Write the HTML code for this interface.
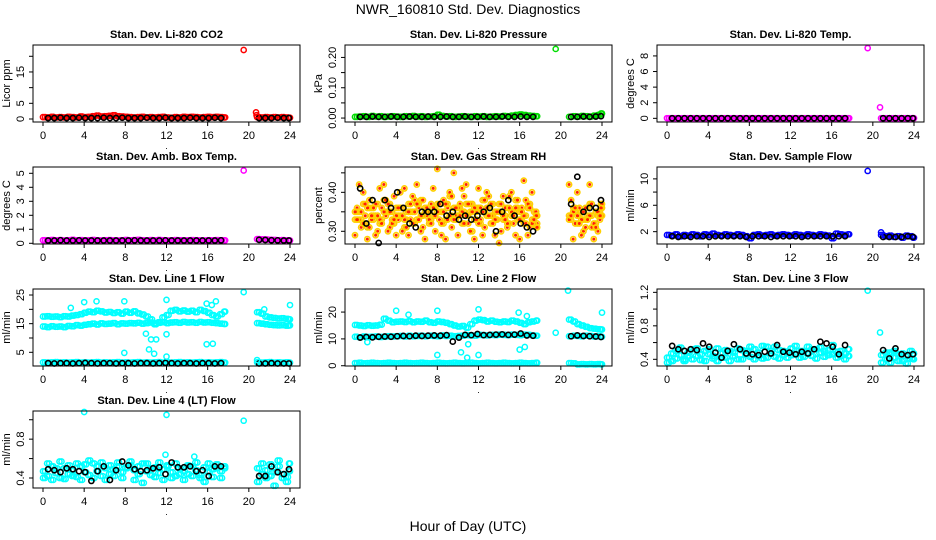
<!DOCTYPE html>
<html><head><meta charset="utf-8"><style>
html,body{margin:0;padding:0;background:#fff;}
svg{display:block;font-family:"Liberation Sans",Arial,sans-serif;}
</style></head><body>
<svg id="chart" width="936" height="540" viewBox="0 0 936 540" xmlns="http://www.w3.org/2000/svg">
<text x="468" y="14" font-size="14" text-anchor="middle">NWR_160810  Std. Dev. Diagnostics</text>
<text x="468" y="531" font-size="14" text-anchor="middle">Hour of Day (UTC)</text>
</svg>
<script>
const hoursColor=[0,0.4,0.8,1.2,1.6,2,2.4,2.8,3.2,3.6,4,4.4,4.8,5.2,5.6,6,6.4,6.8,7.2,7.6,8,8.4,8.8,9.2,9.6,10,10.4,10.8,11.2,11.6,12,12.4,12.8,13.2,13.6,14,14.4,14.8,15.2,15.6,16,16.4,16.8,17.2,17.6,20.8,21.2,21.6,22,22.4,22.8,23.2,23.6,24];
const hoursAlt=[0.2,0.6,1,1.4,1.8,2.2,2.6,3,3.4,3.8,4.2,4.6,5,5.4,5.8,6.2,6.6,7,7.4,7.8,8.2,8.6,9,9.4,9.8,10.2,10.6,11,11.4,11.8,12.2,12.6,13,13.4,13.8,14.2,14.6,15,15.4,15.8,16.2,16.6,17,17.4,17.7,21,21.4,21.8,22.2,22.6,23,23.4,23.8,23.9];
const hoursBlack=[0.5,1.1,1.7,2.3,2.9,3.5,4.1,4.7,5.3,5.9,6.5,7.1,7.7,8.3,8.9,9.5,10.1,10.7,11.3,11.9,12.5,13.1,13.7,14.3,14.9,15.5,16.1,16.7,17.3,21.0,21.6,22.2,22.8,23.4,23.9];

const co2Color=[0.6,0.5,0.7,0.5,0.6,0.5,0.7,0.6,0.5,0.8,0.6,0.7,0.9,1.1,0.8,0.9,1.0,1.2,0.9,0.8,0.7,0.6,0.5,0.6,0.7,0.5,0.6,0.5,0.6,0.7,0.5,0.4,0.6,0.5,0.7,0.6,0.7,0.6,0.5,0.6,0.7,0.6,0.7,0.6,0.5,0.6,0.5,0.6,0.5,0.6,0.5,0.6,0.5,0.4];
const co2Black=[0.3,0.3,0.4,0.3,0.3,0.4,0.3,0.3,0.3,0.4,0.3,0.3,0.4,0.3,0.3,0.3,0.4,0.3,0.3,0.4,0.3,0.3,0.3,0.4,0.3,0.3,0.3,0.4,0.3,0.3,0.3,0.3,0.4,0.3,0.3];
const co2OutHours=[19.5,20.7,20.75];
const co2OutVals=[22,2.1,1.2];

const presColor=[0.004,0.005,0.006,0.004,0.007,0.005,0.006,0.004,0.005,0.006,0.005,0.004,0.006,0.005,0.007,0.005,0.006,0.004,0.005,0.006,0.011,0.007,0.005,0.006,0.004,0.005,0.006,0.005,0.004,0.006,0.005,0.006,0.004,0.005,0.006,0.005,0.007,0.006,0.008,0.01,0.012,0.01,0.008,0.007,0.006,0.004,0.006,0.005,0.007,0.006,0.005,0.008,0.01,0.015];
const presBlack=[0.004,0.004,0.005,0.004,0.004,0.005,0.004,0.004,0.005,0.004,0.004,0.005,0.004,0.004,0.005,0.004,0.004,0.005,0.004,0.004,0.005,0.004,0.004,0.005,0.004,0.004,0.005,0.004,0.004,0.004,0.004,0.005,0.004,0.005,0.006];
const presOutHours=[19.5];
const presOutVals=[0.228];

const tempColor=[0.02,0.01,0.02,0.01,0.02,0.01,0.02,0.01,0.02,0.01,0.02,0.01,0.02,0.01,0.02,0.01,0.02,0.01,0.02,0.01,0.02,0.01,0.02,0.01,0.02,0.01,0.02,0.01,0.02,0.01,0.02,0.01,0.02,0.01,0.02,0.01,0.02,0.01,0.02,0.01,0.02,0.01,0.02,0.01,0.02,0.01,0.02,0.01,0.02,0.01,0.02,0.01,0.02,0.01];
const tempBlack=[0.01,0.01,0.01,0.01,0.01,0.01,0.01,0.01,0.01,0.01,0.01,0.01,0.01,0.01,0.01,0.01,0.01,0.01,0.01,0.01,0.01,0.01,0.01,0.01,0.01,0.01,0.01,0.01,0.01,0.01,0.01,0.01,0.01,0.01,0.01];
const tempOutHours=[19.5,20.7];
const tempOutVals=[9.0,1.4];

const ambColor=[0.22,0.2,0.24,0.21,0.23,0.2,0.22,0.25,0.21,0.23,0.2,0.22,0.24,0.21,0.2,0.22,0.23,0.21,0.2,0.22,0.24,0.21,0.23,0.25,0.22,0.2,0.23,0.21,0.24,0.22,0.2,0.21,0.23,0.22,0.2,0.21,0.23,0.22,0.21,0.2,0.22,0.21,0.23,0.22,0.21,0.3,0.28,0.27,0.25,0.24,0.22,0.23,0.21,0.2];
const ambBlack=[0.2,0.2,0.22,0.2,0.2,0.21,0.2,0.2,0.2,0.2,0.2,0.2,0.2,0.2,0.21,0.2,0.2,0.2,0.2,0.21,0.2,0.2,0.2,0.2,0.2,0.2,0.2,0.2,0.21,0.25,0.24,0.22,0.21,0.2,0.2];
const ambOutHours=[19.5];
const ambOutVals=[5.2];

const rhColorA=[0.33,0.35,0.37,0.31,0.36,0.34,0.32,0.38,0.35,0.33,0.36,0.34,0.31,0.37,0.35,0.33,0.38,0.36,0.32,0.34,0.37,0.35,0.33,0.39,0.36,0.34,0.32,0.37,0.35,0.33,0.36,0.38,0.34,0.32,0.35,0.37,0.33,0.36,0.34,0.38,0.35,0.32,0.36,0.33,0.31,0.34,0.36,0.32,0.35,0.33,0.37,0.31,0.34,0.36];
const rhColorB=[0.36,0.31,0.34,0.38,0.33,0.30,0.36,0.34,0.31,0.39,0.33,0.30,0.35,0.33,0.38,0.36,0.31,0.34,0.37,0.30,0.33,0.38,0.36,0.31,0.34,0.37,0.39,0.32,0.30,0.35,0.33,0.31,0.39,0.37,0.33,0.30,0.36,0.39,0.32,0.33,0.36,0.38,0.31,0.35,0.32,0.38,0.32,0.36,0.30,0.34,0.31,0.35,0.33,0.37];
const rhColorC=[0.29,0.42,0.40,0.28,0.33,0.29,0.41,0.42,0.30,0.35,0.29,0.40,0.41,0.29,0.39,0.42,0.30,0.28,0.35,0.41,0.46,0.29,0.28,0.40,0.45,0.29,0.41,0.42,0.30,0.28,0.41,0.29,0.40,0.37,0.29,0.27,0.39,0.31,0.40,0.29,0.28,0.43,0.29,0.40,0.35,0.42,0.28,0.40,0.29,0.31,0.42,0.28,0.30,0.37];
const rhColorD=[0.35,0.33,0.32,0.36,0.34,0.37,0.33,0.35,0.37,0.32,0.34,0.36,0.33,0.35,0.32,0.37,0.34,0.35,0.33,0.36,0.35,0.32,0.37,0.34,0.33,0.36,0.35,0.34,0.37,0.36,0.32,0.35,0.36,0.34,0.33,0.35,0.34,0.32,0.35,0.36,0.33,0.34,0.37,0.32,0.34,0.33,0.35,0.34,0.33,0.36,0.34,0.32,0.35,0.34];
const rhBlack=[0.41,0.32,0.38,0.27,0.38,0.36,0.40,0.36,0.32,0.31,0.35,0.35,0.35,0.37,0.34,0.35,0.33,0.34,0.33,0.34,0.35,0.36,0.30,0.35,0.38,0.34,0.32,0.31,0.30,0.37,0.44,0.35,0.36,0.36,0.38];

const sampColor=[1.5,1.4,1.6,1.3,1.5,1.4,1.6,1.5,1.3,1.6,1.5,1.7,1.5,1.4,1.6,1.5,1.4,1.6,1.5,1.3,1.0,1.5,1.6,1.4,1.5,1.6,1.4,1.5,1.6,1.5,1.4,1.6,1.5,1.4,1.6,1.5,1.4,1.6,1.5,1.4,1.0,1.7,1.6,1.5,1.6,1.5,1.3,1.4,1.2,1.3,1.1,1.4,1.3,1.1];
const sampBlack=[1.3,1.2,1.3,1.2,1.3,1.3,1.2,1.3,1.3,1.3,1.3,1.3,1.2,1.3,1.3,1.3,1.2,1.3,1.3,1.3,1.3,1.2,1.3,1.3,1.3,1.3,1.3,1.3,1.3,1.2,1.2,1.2,1.2,1.3,1.2];
const sampOutHours=[19.5,20.8];
const sampOutVals=[11.2,1.9];

const l1Upper=[17.5,17.6,17.4,17.5,17.3,17.6,17.5,17.8,18.0,18.3,18.8,19.2,19.0,19.5,19.3,18.9,19.1,18.7,19.0,18.5,19.2,18.8,19.3,18.6,18.2,17.5,16.5,14.8,15.5,17.2,18.0,19.5,19.8,19.3,19.6,19.2,19.5,19.0,19.8,19.4,18.8,18.0,17.5,18.3,19.2,19.0,18.5,17.5,17.2,17.0,16.8,16.9,16.7,16.5];
const l1Lower=[14.0,13.8,14.1,13.9,14.0,13.8,14.2,14.1,14.5,14.3,14.6,14.8,15.0,14.7,15.1,14.9,15.0,15.2,14.8,15.1,15.0,15.2,15.1,15.3,15.0,15.2,15.4,15.1,15.3,15.5,15.2,15.4,15.5,15.3,15.6,15.4,15.5,15.3,15.6,15.4,15.5,15.3,15.2,15.0,14.9,15.2,15.0,14.8,14.6,14.5,14.4,14.5,14.3,14.4];
const l1Low=[1.5,1.4,1.5,1.6,1.4,1.5,1.4,1.5,1.6,1.4,1.5,1.4,1.5,1.6,1.4,1.5,1.4,1.5,1.6,1.4,1.5,1.4,1.5,1.6,1.4,1.5,1.4,1.5,1.6,1.4,1.5,1.4,1.5,1.6,1.4,1.5,1.4,1.5,1.6,1.4,1.5,1.4,1.5,1.6,1.4,1.5,1.4,1.5,1.6,1.4,1.5,1.4,1.5,1.4];
const l1Black=[1.2,1.1,1.2,1.2,1.1,1.2,1.3,1.2,1.1,1.2,1.2,1.1,1.2,1.2,1.1,1.2,1.2,1.1,1.2,1.3,1.2,1.1,1.2,1.2,1.1,1.2,1.2,1.1,1.2,1.1,1.1,1.2,1.1,1.1,1.1];
const l1OutHours=[2.7,4,5.2,7.9,7.9,10,10.3,10.5,11,10.8,12,12,12,15.9,16.4,16.8,15.9,16.5,19.5,20.8,21,21.5,24];
const l1OutVals=[20.5,22.5,22.8,4.8,22.8,11.5,6,9.5,9.5,4.5,23.3,11.3,3.5,22,21.5,22.8,7.8,8,26,2.3,19,20,21.5];

const l2Upper=[15.2,15.0,14.8,15.1,14.9,15.0,15.3,17.5,16.8,16.2,16.4,16.5,16.3,16.6,16.2,16.5,16.4,16.8,16.2,16.0,16.5,16.3,16.0,15.5,15.0,14.6,14.8,14.2,15.5,16.8,17.2,17.0,16.5,16.8,16.4,16.2,16.5,16.3,16.8,16.5,16.0,15.5,16.2,16.5,16.8,17.2,16.5,15.5,15.0,14.5,14.0,13.8,13.6,13.5];
const l2Mid=[10.8,10.6,10.9,10.7,10.8,10.9,10.7,10.8,11.0,10.9,11.0,11.1,10.9,11.2,11.0,11.1,11.2,11.0,11.2,11.1,11.0,11.3,11.1,11.2,11.0,11.1,11.2,11.4,11.3,11.2,11.5,11.4,11.3,11.5,11.4,11.6,11.5,11.4,11.6,11.5,11.4,11.6,11.5,11.3,11.2,11.0,11.2,11.1,11.0,11.2,11.1,10.9,11.0,10.8];
const l2Low=[1.0,1.1,0.9,1.0,1.1,1.0,0.9,1.0,1.1,1.0,0.9,1.0,1.1,1.0,0.9,1.0,1.1,1.0,0.9,1.0,1.1,1.0,0.9,1.0,1.1,1.0,0.9,1.0,1.1,1.0,0.9,1.0,1.1,1.0,0.9,1.0,1.1,1.0,0.9,1.0,1.1,1.0,0.9,1.0,1.1,1.0,0.9,0.5,0.6,0.5,0.6,0.5,0.6,0.5];
const l2Black=[10.5,10.7,10.6,10.8,10.9,10.8,11.0,11.1,11.0,11.2,11.1,11.2,11.3,11.2,11.4,9.0,10.5,11.5,11.4,11.8,11.4,11.5,11.6,11.7,11.5,11.6,12.0,11.3,11.2,11.0,11.3,11.1,11.0,10.9,10.7];
const l2OutHours=[4,5.2,8,8,12,12,10.3,10.9,11,15.9,16,16.5,16.7,19.5,20.7,24,1.2];
const l2OutVals=[20.5,19,20.5,4,21,4,5,3,8,19.8,6,7,18.5,12.3,28,19.8,8.8];

const l3ColorA=[0.42,0.38,0.50,0.45,0.40,0.48,0.52,0.44,0.39,0.50,0.46,0.41,0.53,0.47,0.42,0.50,0.44,0.40,0.51,0.46,0.43,0.52,0.48,0.41,0.55,0.47,0.43,0.51,0.45,0.49,0.53,0.46,0.42,0.50,0.47,0.44,0.52,0.48,0.43,0.51,0.46,0.42,0.50,0.47,0.44,0.45,0.40,0.48,0.42,0.46,0.38,0.44,0.41,0.47];
const l3ColorB=[0.36,0.47,0.41,0.54,0.38,0.44,0.40,0.53,0.46,0.38,0.52,0.44,0.38,0.42,0.51,0.38,0.48,0.53,0.40,0.50,0.55,0.40,0.44,0.56,0.42,0.50,0.55,0.41,0.50,0.42,0.45,0.56,0.50,0.43,0.55,0.52,0.41,0.54,0.50,0.45,0.57,0.49,0.44,0.40,0.52,0.36,0.48,0.36,0.50,0.38,0.47,0.35,0.50,0.40];
const l3Black=[0.56,0.52,0.50,0.52,0.51,0.59,0.55,0.48,0.42,0.50,0.58,0.52,0.47,0.46,0.45,0.49,0.47,0.57,0.49,0.48,0.46,0.49,0.47,0.52,0.61,0.59,0.55,0.46,0.57,0.51,0.41,0.53,0.46,0.45,0.46];
const l3OutHours=[19.5,20.7];
const l3OutVals=[1.22,0.72];

const l4ColorA=[0.47,0.42,0.52,0.45,0.40,0.50,0.44,0.48,0.41,0.52,0.46,0.43,0.55,0.47,0.42,0.50,0.44,0.49,0.52,0.46,0.50,0.53,0.48,0.44,0.55,0.47,0.43,0.51,0.45,0.49,0.53,0.46,0.42,0.50,0.47,0.44,0.52,0.48,0.43,0.51,0.46,0.49,0.50,0.47,0.52,0.50,0.44,0.48,0.42,0.46,0.52,0.44,0.41,0.47];
const l4ColorB=[0.40,0.55,0.38,0.50,0.57,0.39,0.53,0.42,0.55,0.38,0.54,0.58,0.40,0.52,0.56,0.38,0.53,0.42,0.56,0.40,0.51,0.57,0.38,0.52,0.35,0.55,0.50,0.41,0.56,0.38,0.52,0.40,0.55,0.44,0.38,0.53,0.42,0.56,0.40,0.36,0.55,0.41,0.54,0.40,0.50,0.36,0.55,0.40,0.54,0.32,0.58,0.40,0.36,0.55];
const l4Black=[0.49,0.48,0.46,0.50,0.49,0.47,0.46,0.37,0.47,0.52,0.38,0.48,0.57,0.53,0.49,0.47,0.48,0.50,0.51,0.44,0.56,0.51,0.51,0.52,0.47,0.48,0.42,0.52,0.52,0.42,0.42,0.52,0.46,0.44,0.49];
const l4OutHours=[4,12,19.5,11.9,14.7];
const l4OutVals=[1.08,1.05,0.99,0.64,0.62];

const xTicks=[0,4,8,12,16,20,24];

const NS='http://www.w3.org/2000/svg';
const svg=document.getElementById('chart');
function mk(tag,attrs,parent){const e=document.createElementNS(NS,tag);for(const k in attrs)e.setAttribute(k,attrs[k]);(parent||svg).appendChild(e);return e;}

const panels=[
 {id:'co2',col:0,row:0,title:'Stan. Dev. Li-820 CO2',ylab:'Licor ppm',lo:-0.96,hi:23.6,ticks:[0,5,10,15,20],labels:['0','5','','15',''],
  series:[[hoursColor,co2Color,'#ff0000'],[hoursAlt,co2Color,'#ff0000'],[hoursBlack,co2Black,'#000'],[co2OutHours,co2OutVals,'#ff0000']]},
 {id:'pressure',col:1,row:0,title:'Stan. Dev. Li-820 Pressure',ylab:'kPa',lo:-0.013,hi:0.241,ticks:[0,0.05,0.1,0.15,0.2],labels:['0.00','','0.10','','0.20'],
  series:[[hoursColor,presColor,'#00dd00'],[hoursAlt,presColor,'#00dd00'],[hoursBlack,presBlack,'#000'],[presOutHours,presOutVals,'#00dd00']]},
 {id:'temp',col:2,row:0,title:'Stan. Dev. Li-820 Temp.',ylab:'degrees C',lo:-0.47,hi:9.4,ticks:[0,2,4,6,8],labels:['0','2','4','6','8'],
  series:[[hoursColor,tempColor,'#ff00ff'],[hoursAlt,tempColor,'#ff00ff'],[hoursBlack,tempBlack,'#000'],[tempOutHours,tempOutVals,'#ff00ff']]},
 {id:'amb-box',col:0,row:1,title:'Stan. Dev. Amb. Box Temp.',ylab:'degrees C',lo:-0.05,hi:5.45,ticks:[0,1,2,3,4,5],labels:['0','1','2','3','4','5'],
  series:[[hoursColor,ambColor,'#ff00ff'],[hoursAlt,ambColor,'#ff00ff'],[hoursBlack,ambBlack,'#000'],[ambOutHours,ambOutVals,'#ff00ff']]},
 {id:'gas-rh',col:1,row:1,title:'Stan. Dev. Gas Stream RH',ylab:'percent',lo:0.2674,hi:0.465,ticks:[0.3,0.35,0.4,0.45],labels:['0.30','','0.40',''],
  series:[[hoursColor,rhColorA,'rh'],[hoursAlt,rhColorB,'rh'],[hoursColor,rhColorC,'rh'],[hoursAlt,rhColorD,'rh'],[hoursColor,rhColorD,'rh'],[hoursAlt,rhColorA,'rh'],[hoursBlack,rhBlack,'#000']]},
 {id:'sample-flow',col:2,row:1,title:'Stan. Dev. Sample Flow',ylab:'ml/min',lo:0.13,hi:11.8,ticks:[2,4,6,8,10],labels:['2','','6','','10'],
  series:[[hoursColor,sampColor,'#0000ff'],[hoursAlt,sampColor,'#0000ff'],[hoursBlack,sampBlack,'#000'],[sampOutHours,sampOutVals,'#0000ff']]},
 {id:'line1',col:0,row:2,title:'Stan. Dev. Line 1 Flow',ylab:'ml/min',lo:0.22,hi:27.1,ticks:[5,10,15,20,25],labels:['5','','15','','25'],
  series:[[hoursColor,l1Upper,'#00ffff'],[hoursAlt,l1Upper,'#00ffff'],[hoursColor,l1Lower,'#00ffff'],[hoursAlt,l1Lower,'#00ffff'],[hoursColor,l1Low,'#00ffff'],[hoursAlt,l1Low,'#00ffff'],[hoursBlack,l1Black,'#000'],[l1OutHours,l1OutVals,'#00ffff']]},
 {id:'line2',col:1,row:2,title:'Stan. Dev. Line 2 Flow',ylab:'ml/min',lo:-0.1,hi:28.6,ticks:[0,10,20],labels:['0','10','20'],
  series:[[hoursColor,l2Upper,'#00ffff'],[hoursAlt,l2Upper,'#00ffff'],[hoursColor,l2Mid,'#00ffff'],[hoursAlt,l2Mid,'#00ffff'],[hoursColor,l2Low,'#00ffff'],[hoursAlt,l2Low,'#00ffff'],[hoursBlack,l2Black,'#000'],[l2OutHours,l2OutVals,'#00ffff']]},
 {id:'line3',col:2,row:2,title:'Stan. Dev. Line 3 Flow',ylab:'ml/min',lo:0.32,hi:1.24,ticks:[0.4,0.6,0.8,1.0,1.2],labels:['0.4','','0.8','','1.2'],
  series:[[hoursColor,l3ColorA,'#00ffff'],[hoursAlt,l3ColorB,'#00ffff'],[hoursAlt,l3ColorA,'#00ffff'],[hoursColor,l3ColorB,'#00ffff'],[hoursBlack,l3Black,'#000'],[l3OutHours,l3OutVals,'#00ffff']]},
 {id:'line4',col:0,row:3,title:'Stan. Dev. Line 4 (LT) Flow',ylab:'ml/min',lo:0.297,hi:1.09,ticks:[0.4,0.6,0.8,1.0],labels:['0.4','','0.8',''],
  series:[[hoursColor,l4ColorA,'#00ffff'],[hoursAlt,l4ColorB,'#00ffff'],[hoursAlt,l4ColorA,'#00ffff'],[hoursColor,l4ColorB,'#00ffff'],[hoursBlack,l4Black,'#000'],[l4OutHours,l4OutVals,'#00ffff']]}
];

panels.forEach(p=>{
  const left=33+p.col*312, top=45+p.row*122, W=267, H=77, bottom=top+H;
  const xs=h=>left+10+h*(247/24);
  const ys=v=>bottom-(v-p.lo)/(p.hi-p.lo)*H;
  const g=mk('g',{});
  
  
  const t=mk('text',{x:left+W/2,y:top-7,'font-size':11,'font-weight':'bold','text-anchor':'middle'},g);
  t.textContent=p.title;
  
  
  const pts=mk('g',{fill:'none'},g);
  
  
  p.series.forEach(s=>{
    const [hs,vs,c]=s;
    hs.forEach((h,i)=>{
      const cx=xs(h), cy=ys(vs[i]);
      if(c==='rh'){
        const a=mk('circle',{cx:cx,cy:cy,r:2.6,stroke:'#ffd000','stroke-width':1.6},pts);
        
        
        const b=mk('circle',{cx:cx,cy:cy,r:1.5,fill:'#ff2000'},pts);
        
        
      } else {
        const a=mk('circle',{cx:cx,cy:cy,r:2.6,stroke:c,'stroke-width':c==='#000'?1.6:1.5},pts);
        
        
      }
    });
  });
  const box=mk('rect',{x:left,y:top,width:W,height:H,fill:'none',stroke:'#000','stroke-width':1},g);
  
  
  const xa=mk('g',{},g);
  
  
  xTicks.forEach(v=>{
    mk('line',{x1:xs(v),x2:xs(v),y1:bottom,y2:bottom+4,stroke:'#000'},xa);
    const l=mk('text',{x:xs(v),y:bottom+17,'font-size':11,'text-anchor':'middle'},xa);
    l.textContent=v;
    
    
  });
  const dot=mk('text',{x:left+W/2,y:bottom+27,'font-size':9,'text-anchor':'middle'},xa);
  dot.textContent='.';
  const ya=mk('g',{},g);
  
  
  p.ticks.forEach((v,i)=>{
    const y=ys(v);
    mk('line',{x1:left-4,x2:left,y1:y,y2:y,stroke:'#000'},ya);
    if(p.labels[i]){
      const l=mk('text',{x:0,y:0,'font-size':11,'text-anchor':'middle',transform:`translate(${left-9},${y}) rotate(-90)`},ya);
      l.textContent=p.labels[i];
      
      
    }
  });
  const yt=mk('text',{x:0,y:0,'font-size':11,'text-anchor':'middle',transform:`translate(${left-23},${top+H/2}) rotate(-90)`},g);
  yt.textContent=p.ylab;
  
  
});
</script>
</body></html>
